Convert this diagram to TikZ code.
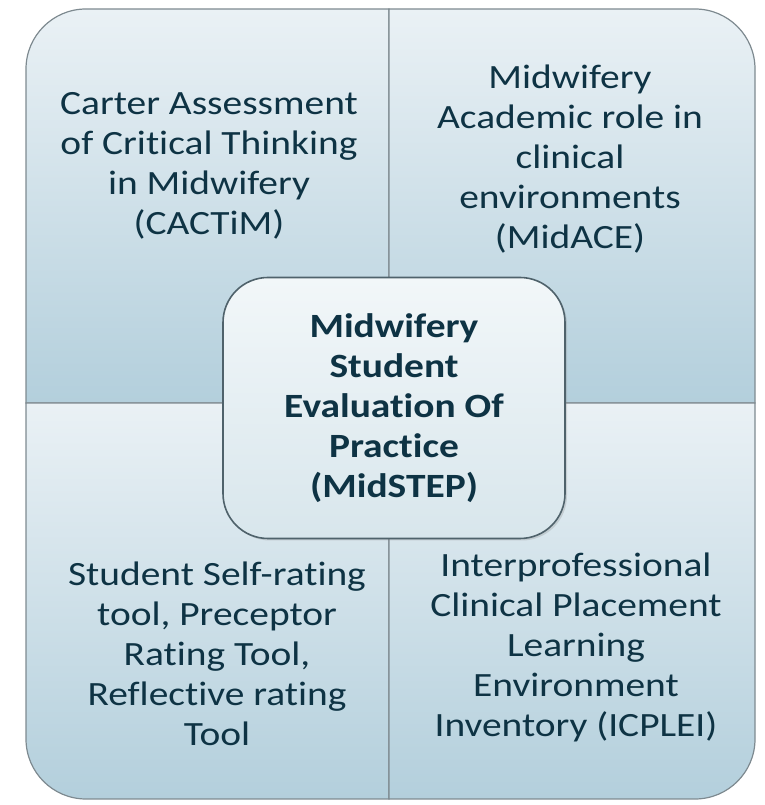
\documentclass[tikz,border=0pt]{standalone}
\usepackage{fontspec}
\setmainfont{Carlito}[FakeStretch=1.16, Ligatures=NoCommon]
\usetikzlibrary{shadows}
\definecolor{inktext}{HTML}{0E3344}
\definecolor{qtop}{HTML}{EAF1F5}
\definecolor{qbottom}{HTML}{B3CFDC}
\definecolor{ctop}{HTML}{F2F7F9}
\definecolor{cbottom}{HTML}{D8E6EC}
\definecolor{qline}{HTML}{7E8A90}
\definecolor{cline}{HTML}{4F626B}
\tikzset{
  quadrant/.style={draw=qline, line width=1.2pt, top color=qtop, bottom color=qbottom},
  toollabel/.style={text=inktext, align=center, font={\fontsize{34}{40}\selectfont}},
  hubbox/.style={draw=cline, line width=1.6pt, rounded corners=45pt, top color=ctop, bottom color=cbottom,
    minimum width=342pt, minimum height=261pt, text=inktext, align=center,
    font={\fontsize{34}{40}\selectfont\bfseries},
    drop shadow={opacity=0.25, shadow xshift=2pt, shadow yshift=-2pt}}
}
\begin{document}
\begin{tikzpicture}[x=1pt, y=1pt]
  \useasboundingbox (0,0) rectangle (764,805);
  % quadrants, each rounded at its outer corner
  \path[quadrant] (389,402) -- (26,402) -- (26,736) arc (180:90:60) -- (389,796) -- cycle;
  \path[quadrant] (389,402) -- (389,796) -- (695,796) arc (90:0:60) -- (755,402) -- cycle;
  \path[quadrant] (389,402) -- (26,402) -- (26,66) arc (180:270:60) -- (389,6) -- cycle;
  \path[quadrant] (389,402) -- (389,6) -- (695,6) arc (270:360:60) -- (755,402) -- cycle;
  % quadrant texts
  \foreach \nm/\px/\py/\txt in {
      cactim/209/639/{Carter Assessment\\of Critical Thinking\\in Midwifery\\(CACTiM)},
      midace/570/646/{Midwifery\\Academic role in\\clinical\\environments\\(MidACE)},
      selfrating/217/151/{Student Self-rating\\tool, Preceptor\\Rating Tool,\\Reflective rating\\Tool},
      icplei/576/158/{Interprofessional\\Clinical Placement\\Learning\\Environment\\Inventory (ICPLEI)}} {
    \node[toollabel] (\nm) at (\px,\py) {\txt};
  }
  % central tool
  \node[hubbox] (midstep) at (394,397) {Midwifery\\Student\\Evaluation Of\\Practice\\(MidSTEP)};
\end{tikzpicture}
\end{document}
